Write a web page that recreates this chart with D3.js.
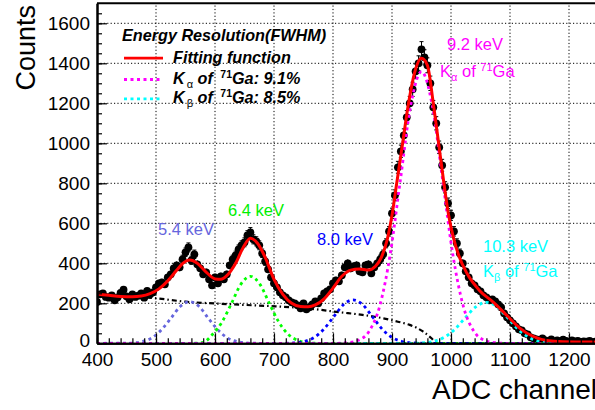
<!DOCTYPE html>
<html>
<head>
<meta charset="utf-8">
<script src="https://cdn.jsdelivr.net/npm/d3@7"></script>
<style>
  body { margin: 0; background: #fff; }
  text { font-family: "Liberation Sans", Arial, sans-serif; }
</style>
</head>
<body>
<div id="chart"></div>
<script>
// histogram: bin centres every 5 ADC channels from 400 to 1250
const binStart = 400, binStep = 5
const counts = [
  207,245,250,232,228,240,215,230,252,268,
  235,220,245,232,238,250,228,262,245,255,
  280,300,305,295,330,345,375,390,380,420,
  455,480,415,445,395,375,345,355,320,290,
  330,300,335,320,345,390,420,440,470,490,
  505,540,555,520,510,490,450,410,370,330,
  300,280,255,240,230,215,205,200,190,175,
  200,170,180,195,210,200,225,250,260,270,
  300,315,310,340,380,400,375,385,390,360,
  355,390,395,350,380,400,420,445,500,560,
  650,740,880,960,1040,1130,1200,1270,1360,1400,
  1470,1430,1390,1300,1180,1100,980,890,780,700,
  640,560,500,450,400,360,330,300,290,270,
  260,240,230,215,220,210,195,180,150,130,
  115,100,85,70,65,50,45,30,25,20,
  15,25,15,10,20,8,15,10,18,12,
  8,15,10,12,6,10,8,12,5,8,
  10
]

// curves: [ADC, counts]
const fitCurve = [[400,246],[420,240],[440,234],[460,233],[475,236],[490,248],[505,272],[520,312],
  [535,365],[545,398],[557,416],[570,400],[585,356],[600,322],[610,320],[620,338],[635,400],
  [648,480],[660,525],[672,500],[685,430],[700,320],[715,245],[730,200],[745,184],[758,183],
  [770,192],[785,222],[800,276],[815,335],[830,366],[845,372],[860,366],[872,385],[882,430],
  [892,520],[900,640],[908,800],[918,1000],[928,1200],[938,1350],[950,1425],[960,1390],
  [970,1200],[979,1000],[988,800],[996,640],[1004,530],[1013,440],[1027,350],[1049,262],
  [1072,205],[1094,141],[1117,75],[1140,33],[1162,14],[1190,8],[1250,6]]
const bgCurve = [[400,241],[450,233],[500,225],[550,208],[600,199],[650,192],[700,185],[755,175],
  [812,155],[850,142],[885,125],[910,108],[930,92],[953,58],[967,25],[976,0],[1250,0]]
const peak54 = [[400,0],[457,1],[477,9],[493,27],[509,67],[525,124],[541,184],[557,208],[573,184],
  [589,124],[605,67],[621,27],[637,9],[657,1],[680,0],[1250,0]]
const peak64 = [[400,0],[560,0],[580,5],[596,45],[612,107],[628,200],[644,296],[660,335],[676,296],
  [692,200],[708,107],[724,45],[740,15],[760,2],[780,0],[1250,0]]
const peak80 = [[400,0],[715,0],[734,2],[751,9],[768,29],[784,69],[801,132],[818,194],[834,217],
  [850,194],[867,132],[884,69],[900,29],[917,9],[934,2],[955,0],[1250,0]]
const peakKa = [[400,0],[805,0],[825,3],[843,15],[861,59],[879,184],[897,446],[914,812],[932,1194],
  [950,1358],[968,1194],[986,812],[1003,446],[1021,184],[1039,59],[1057,15],[1075,3],[1095,0],[1250,0]]
const peakKb = [[400,0],[930,0],[950,2],[969,9],[987,28],[1005,66],[1024,127],[1042,182],[1060,205],
  [1078,182],[1096,127],[1115,66],[1133,28],[1151,9],[1170,2],[1190,0],[1250,0]]

const xTicks = [400,500,600,700,800,900,1000,1100,1200]
const yTicks = [0,200,400,600,800,1000,1200,1400,1600]

const W = 595, H = 410
const svg = d3.select('#chart').append('svg')
  .attr('width', W).attr('height', H)

const x = d3.scaleLinear().domain([400, 1250]).range([97, 598.5])
const y = d3.scaleLinear().domain([0, 1700]).range([343.3, 3.3])

svg.append('defs').append('clipPath').attr('id', 'plot')
  .append('rect').attr('x', 97).attr('y', 3.3).attr('width', 501.5).attr('height', 340)

// grid
const grid = svg.append('g').attr('stroke', '#000').attr('stroke-width', 1)
  .attr('stroke-dasharray', '1.2,2.2')
grid.selectAll('.gx').data(xTicks.slice(1)).enter().append('line')
  .attr('x1', d => x(d)).attr('x2', d => x(d)).attr('y1', y(0)).attr('y2', y(1700))
grid.selectAll('.gy').data(yTicks.slice(1)).enter().append('line')
  .attr('x1', x(400)).attr('x2', x(1250)).attr('y1', d => y(d)).attr('y2', d => y(d))

const plot = svg.append('g').attr('clip-path', 'url(#plot)')

// data points with error bars
const pts = counts.map((c, i) => ({ ch: binStart + i * binStep, n: c }))
const eb = plot.append('g').attr('stroke', '#000').attr('stroke-width', 1)
pts.forEach(p => {
  const e = Math.sqrt(p.n)
  eb.append('line').attr('x1', x(p.ch)).attr('x2', x(p.ch))
    .attr('y1', y(p.n - e)).attr('y2', y(p.n + e))
  if (y(p.n - e) - y(p.n + e) > 8) {
    [p.n - e, p.n + e].forEach(v => {
      eb.append('line').attr('x1', x(p.ch) - 2).attr('x2', x(p.ch) + 2)
        .attr('y1', y(v)).attr('y2', y(v))
    })
  }
})
plot.selectAll('circle').data(pts).enter().append('circle')
  .attr('cx', d => x(d.ch)).attr('cy', d => y(d.n)).attr('r', 3.9).attr('fill', '#000')

const line = d3.line().x(d => x(d[0])).y(d => y(d[1])).curve(d3.curveMonotoneX)

const comps = [
  { data: bgCurve, color: '#000', dash: '5,3,1.5,3', w: 2.2 },
  { data: peak54, color: '#6666dd', dash: '3,3.5', w: 2.8 },
  { data: peak64, color: '#00ff00', dash: '3,3.5', w: 2.8 },
  { data: peak80, color: '#0000ff', dash: '3,3.5', w: 2.8 },
  { data: peakKb, color: '#00ffff', dash: '3,3.5', w: 2.8 },
  { data: peakKa, color: '#ff00ff', dash: '3,3.5', w: 2.8 }
]
comps.forEach(c => {
  plot.append('path').attr('d', line(c.data)).attr('fill', 'none')
    .attr('stroke', c.color).attr('stroke-width', c.w).attr('stroke-dasharray', c.dash)
})
plot.append('path').attr('d', line(fitCurve)).attr('fill', 'none')
  .attr('stroke', '#ff0000').attr('stroke-width', 3)

// axes
const xAxis = svg.append('g').attr('transform', `translate(0,${y(0)})`)
  .call(d3.axisBottom(x).tickValues(xTicks).tickFormat(d3.format('d')).tickSize(-10).tickPadding(9).tickSizeOuter(0))
xAxis.append('g').call(d3.axisBottom(x).tickValues(d3.range(400, 1250, 20)).tickSize(-5).tickFormat('').tickSizeOuter(0))
const yAxis = svg.append('g').attr('transform', `translate(${x(400)},0)`)
  .call(d3.axisLeft(y).tickValues(yTicks).tickFormat(d3.format('d')).tickSize(-10).tickPadding(7).tickSizeOuter(0))
yAxis.append('g').call(d3.axisLeft(y).tickValues(d3.range(0, 1700, 50)).tickSize(-5).tickFormat('').tickSizeOuter(0))
svg.selectAll('.domain').attr('stroke-width', 2)
svg.selectAll('.tick line').attr('stroke-width', 1.2)
svg.selectAll('.tick text').attr('font-size', 19).attr('fill', '#000')
  .style('font-family', '"Liberation Sans", Arial, sans-serif')
yAxis.selectAll('.tick text').filter(d => d === 0).attr('dy', '0.15em')

// frame top
svg.append('line').attr('x1', 97).attr('x2', 598.5).attr('y1', 3.3).attr('y2', 3.3)
  .attr('stroke', '#000').attr('stroke-width', 2)

// axis titles
svg.append('text').attr('transform', 'translate(35,5) rotate(-90)')
  .attr('text-anchor', 'end').attr('font-size', 27).text('Counts')
svg.append('text').attr('x', 597).attr('y', 399).attr('text-anchor', 'end')
  .attr('font-size', 28).text('ADC channel')

// legend
const leg = svg.append('g').attr('font-weight', 'bold').attr('font-style', 'italic')
leg.append('text').attr('x', 122).attr('y', 40.7).attr('font-size', 16.2).text('Energy Resolution(FWHM)')
const entries = [
  { y: 62.7, color: '#ff0000', dash: null, label: null, pct: 'Fitting function' },
  { y: 84, color: '#ff00ff', dash: '3,3.5', label: 'α', pct: ': 9.1%' },
  { y: 103.3, color: '#00ffff', dash: '3,3.5', label: 'β', pct: ': 8.5%' }
]
entries.forEach(e => {
  leg.append('line').attr('x1', 124).attr('x2', 163).attr('y1', e.y - 4.5).attr('y2', e.y - 4.5)
    .attr('stroke', e.color).attr('stroke-width', 2.8).attr('stroke-dasharray', e.dash)
  const t = leg.append('text').attr('x', 173).attr('y', e.y).attr('font-size', 16.2)
  if (!e.label) { t.text(e.pct); return }
  t.append('tspan').text('K')
  t.append('tspan').attr('dx', 2).attr('dy', 4).attr('font-size', 11).attr('font-style', 'normal').attr('font-weight', 'normal').text(e.label)
  t.append('tspan').attr('dy', -4).text(' of ')
  t.append('tspan').attr('dx', 3).attr('dy', -6).attr('font-size', 10.5).attr('font-style', 'normal').text('71')
  t.append('tspan').attr('dy', 6).text('Ga' + e.pct)
})

// peak annotations
function kLabel(xp, yp, color, sub) {
  const t = svg.append('text').attr('x', xp).attr('y', yp).attr('font-size', 16.5).attr('fill', color)
  t.append('tspan').text('K')
  t.append('tspan').attr('dy', 4).attr('font-size', 11).text(sub)
  t.append('tspan').attr('dy', -4).text(' of ')
  t.append('tspan').attr('dy', -6).attr('font-size', 11).text('71')
  t.append('tspan').attr('dy', 6).text('Ga')
}
const notes = [
  { x: 158, y: 235, color: '#6666dd', text: '5.4 keV' },
  { x: 228, y: 216, color: '#00ee00', text: '6.4 keV' },
  { x: 317, y: 245, color: '#0000ff', text: '8.0 keV' },
  { x: 447, y: 50, color: '#ff00ff', text: '9.2 keV' },
  { x: 483, y: 252, color: '#00ffff', text: '10.3 keV' }
]
svg.selectAll('.note').data(notes).enter().append('text')
  .attr('x', d => d.x).attr('y', d => d.y).attr('fill', d => d.color)
  .attr('font-size', 16.5).text(d => d.text)
kLabel(440, 77, '#ff00ff', 'α')
kLabel(483, 277, '#00ffff', 'β')
</script>
</body>
</html>
